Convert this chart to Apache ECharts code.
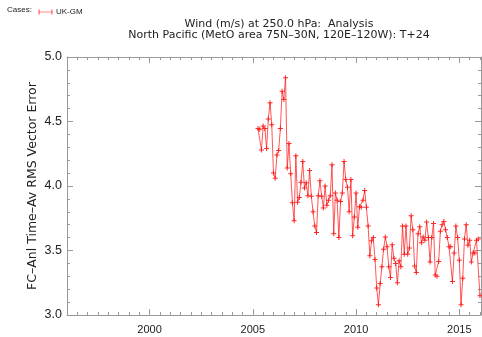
<!DOCTYPE html>
<html>
<head>
<meta charset="utf-8">
<script src="https://cdn.jsdelivr.net/npm/echarts@6/dist/echarts.min.js"></script>
<style>
  html, body { margin: 0; padding: 0; background: #fff; }
  #chart { width: 482px; height: 337px; }
</style>
</head>
<body>
<div id="chart"></div>
<script>
// Monthly RMS vector wind error, UK-GM, starting April 2005
const seriesName = 'UK-GM';
const startYear = 2005;
const startMonth = 4;
const rmsError = [
  4.445, 4.44, 4.28, 4.465, 4.445, 4.29, 4.52, 4.645, 4.475, 4.10,
  4.06, 4.24, 4.275, 4.445, 4.735, 4.67, 4.84, 4.14, 4.33, 4.095,
  3.87, 3.73, 4.235, 3.875, 3.91, 4.03, 4.19, 3.985, 4.025, 3.925,
  4.12, 3.92, 3.80, 3.69, 3.64, 3.925, 4.04, 3.92, 3.83, 4.0,
  3.85, 3.89, 3.925, 4.165, 3.63, 3.945, 3.89, 3.60, 3.88, 3.945,
  4.19, 4.05, 3.99, 3.80, 4.05, 3.615, 3.76, 3.945, 3.68, 3.84,
  3.835, 3.89, 3.965, 3.835, 3.69, 3.46, 3.575, 3.60, 3.43, 3.21,
  3.08, 3.245, 3.375, 3.51, 3.605, 3.53, 3.375, 3.29, 3.545, 3.44,
  3.40, 3.25, 3.42, 3.375, 3.69, 3.47, 3.69, 3.47, 3.52, 3.77,
  3.66, 3.38, 3.33, 3.63, 3.685, 3.56, 3.605, 3.58, 3.72, 3.60,
  3.41, 3.60, 3.71, 3.31, 3.30, 3.415, 3.65, 3.70, 3.725, 3.66,
  3.60, 3.53, 3.53, 3.26, 3.48, 3.69, 3.60, 3.425, 3.08, 3.285,
  3.59, 3.70, 3.54, 3.58, 3.41, 3.48, 3.48, 3.58, 3.59, 3.15
];
const yearTicks = [2000, 2005, 2010, 2015];
const yTickLabels = ['3.0', '3.5', '4.0', '4.5', '5.0'];

const titleLines = [
  'Wind (m/s) at 250.0 hPa:  Analysis',
  'North Pacific (MetO area 75N\u201330N, 120E\u2013120W): T+24'
];
const yName = 'FC\u2013Anl Time\u2013Av RMS Vector Error';

// decimal-year time stamp for each monthly value
const points = rmsError.map((v, i) => [startYear + (startMonth - 1 + i) / 12, v]);

const X_MIN = 1996, X_MAX = 2016.05;
const minorYears = [];
for (let y = 1996; y <= 2016; y += 0.5) if (yearTicks.indexOf(y) < 0) minorYears.push(y);

const axisGray = '#9a9a9a';
const textColor = '#222';
const font = 'Liberation Sans, Arial, sans-serif';
const wideFont = 'DejaVu Sans, sans-serif';
const plus = 'path://M-0.6,-3H0.6V-0.6H3V0.6H0.6V3H-0.6V0.6H-3V-0.6H-0.6Z';
// legend key: a short line with a plus marker at each end
const legendKey = 'path://M0,2.2H14V2.8H0Z M0.7,0H1.3V5H0.7Z M12.7,0H13.3V5H12.7Z';

const chart = echarts.init(document.getElementById('chart'), null, { renderer: 'canvas' });

function xAxisBox(pos, opts) {
  return Object.assign({
    type: 'value', position: pos, min: X_MIN, max: X_MAX,
    splitLine: { show: false },
    axisLine: { show: true, onZero: false, lineStyle: { color: axisGray, width: 1 } },
    axisTick: { show: true, inside: true, length: 6, customValues: yearTicks, lineStyle: { color: axisGray } },
    axisLabel: { show: false }
  }, opts);
}
function xMinor(pos) {
  return {
    type: 'value', position: pos, min: X_MIN, max: X_MAX,
    splitLine: { show: false }, axisLine: { show: false },
    axisTick: { show: true, inside: true, length: 3, customValues: minorYears, lineStyle: { color: axisGray } },
    axisLabel: { show: false }
  };
}
function yAxisBox(pos, opts) {
  return Object.assign({
    type: 'value', position: pos, min: 3, max: 5, interval: 0.5,
    splitLine: { show: false },
    axisLine: { show: true, onZero: false, lineStyle: { color: axisGray, width: 1 } },
    axisTick: { show: true, inside: true, length: 6, lineStyle: { color: axisGray } },
    minorTick: { show: true, splitNumber: 5, length: 3, lineStyle: { color: axisGray } },
    axisLabel: { show: false }
  }, opts);
}

chart.setOption({
  animation: false,
  backgroundColor: '#fff',
  title: {
    text: titleLines.join('\n'),
    left: 274, top: 14, textAlign: 'center',
    textStyle: { fontFamily: wideFont, fontSize: 11, fontWeight: 'normal', color: textColor, lineHeight: 11 }
  },
  legend: {
    left: 33, top: 3, itemWidth: 15, itemHeight: 6, itemGap: 4,
    data: [{ name: seriesName, icon: legendKey, itemStyle: { color: '#ff1010' } }],
    textStyle: { fontFamily: font, fontSize: 8, color: textColor, padding: [0, 0, 0, -2] }
  },
  graphic: [{
    type: 'text', left: 7, top: 6,
    style: { text: 'Cases:', font: '8px ' + font, fill: textColor }
  }],
  grid: { left: 67, right: 1, top: 57, bottom: 22, containLabel: false },
  xAxis: [
    xAxisBox('bottom', {
      axisLabel: {
        show: true, customValues: yearTicks, margin: 9,
        fontFamily: font, fontSize: 11, color: textColor,
        formatter: v => String(v)
      }
    }),
    xAxisBox('top'),
    xMinor('bottom'),
    xMinor('top')
  ],
  yAxis: [
    yAxisBox('left', {
      name: yName, nameLocation: 'middle', nameGap: 28, nameMoveOverlap: false,
      nameTextStyle: { fontFamily: wideFont, fontSize: 12.5, color: textColor },
      axisLabel: {
        show: true, margin: 5, fontFamily: font, fontSize: 12.5, color: textColor,
        formatter: v => yTickLabels[Math.round((v - 3) / 0.5)]
      }
    }),
    yAxisBox('right')
  ],
  series: [{
    name: seriesName, type: 'line', xAxisIndex: 0, yAxisIndex: 0,
    data: points,
    symbol: plus, symbolSize: 5, showSymbol: true,
    itemStyle: { color: 'rgba(255,20,20,0.9)' },
    lineStyle: { color: 'rgba(255,30,30,0.75)', width: 1 }
  }]
});
</script>
</body>
</html>
